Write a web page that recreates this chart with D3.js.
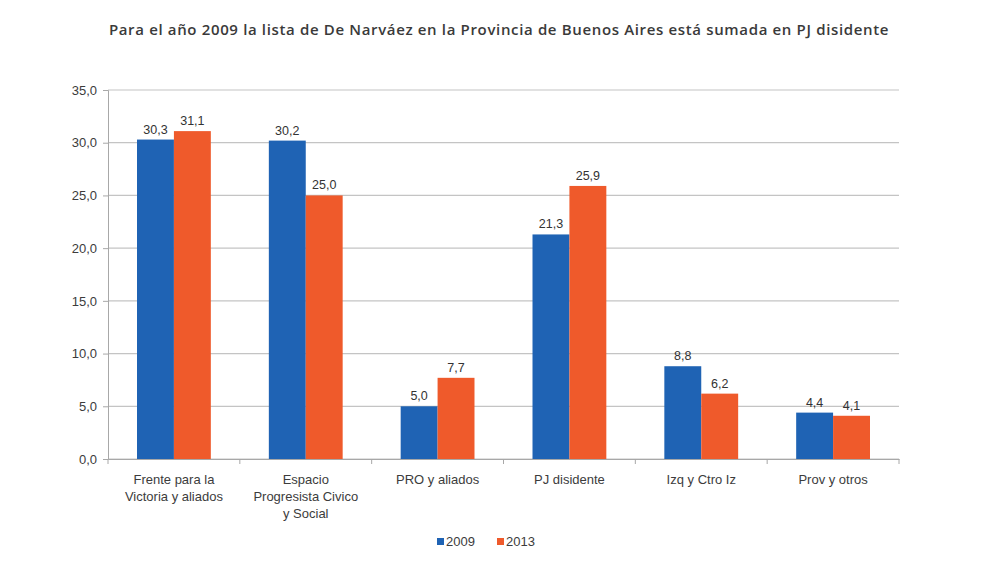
<!DOCTYPE html>
<html>
<head>
<meta charset="utf-8">
<script src="https://cdn.jsdelivr.net/npm/d3@7"></script>
<style>
  body { margin: 0; background: #fff; }
</style>
</head>
<body>
<div id="chart"></div>
<script>
// data
var categories = [
  ["Frente para la", "Victoria y aliados"],
  ["Espacio", "Progresista Civico", "y Social"],
  ["PRO y aliados"],
  ["PJ disidente"],
  ["Izq y Ctro Iz"],
  ["Prov y otros"]
];
var years = ["2009", "2013"];
var values2009 = [30.3, 30.2, 5.0, 21.3, 8.8, 4.4];
var values2013 = [31.1, 25.0, 7.7, 25.9, 6.2, 4.1];
var yTicks = [0, 5, 10, 15, 20, 25, 30, 35];
var colors = ["#1f63b4", "#ef5a2b"];

var fmt = function(v) { return v.toFixed(1).replace(".", ","); };

// set the dimensions and margins of the graph
var W = 1000, H = 565;
var margin = {top: 90, right: 101, bottom: 106, left: 108},
    width = W - margin.left - margin.right,
    height = H - margin.top - margin.bottom;

var root = d3.select("#chart")
    .append("svg")
    .attr("width", W)
    .attr("height", H);

root.append("text")
    .attr("x", 499)
    .attr("y", 35)
    .attr("text-anchor", "middle")
    .style("font-family", "'Open Sans', sans-serif")
    .style("font-size", "15px")
    .style("font-weight", "600")
    .style("letter-spacing", "0.65px")
    .style("fill", "#3a3a3a")
    .text("Para el año 2009 la lista de De Narváez en la Provincia de Buenos Aires está sumada en PJ disidente");

var svg = root.append("g")
    .attr("transform", "translate(" + margin.left + "," + margin.top + ")");

// scales
var x = d3.scaleBand()
    .domain(d3.range(categories.length))
    .range([0, width]);

var y = d3.scaleLinear()
    .domain([0, 35])
    .range([height, 0]);

var barW = x.bandwidth() * 0.28;

// gridlines
svg.append("g")
    .selectAll("line")
    .data(yTicks)
    .enter()
    .append("line")
    .attr("x1", 0)
    .attr("x2", width)
    .attr("y1", function(d) { return y(d); })
    .attr("y2", function(d) { return y(d); })
    .attr("stroke", "#c4c4c4")
    .attr("stroke-width", 1.2);

// Y axis
var yAxis = svg.append("g")
    .call(d3.axisLeft(y).tickValues(yTicks).tickFormat(fmt).tickSize(5).tickPadding(6));
yAxis.select(".domain").attr("stroke", "#a8a8a8");
yAxis.selectAll(".tick line").attr("stroke", "#a8a8a8");
yAxis.selectAll("text")
    .style("font-family", "'Liberation Sans', Arial, sans-serif")
    .style("font-size", "13px")
    .style("fill", "#3c3c3c");

// X axis
var xAxis = svg.append("g")
    .attr("transform", "translate(0," + height + ")")
    .call(d3.axisBottom(x).tickValues([]).tickSizeOuter(0));
xAxis.select(".domain").attr("stroke", "#a8a8a8");
xAxis.selectAll(".sep")
    .data(d3.range(categories.length + 1))
    .enter()
    .append("line")
    .attr("x1", function(i) { return i * x.step(); })
    .attr("x2", function(i) { return i * x.step(); })
    .attr("y1", 0)
    .attr("y2", 5)
    .attr("stroke", "#a8a8a8");

// category labels
var labels = svg.append("g")
    .selectAll("text")
    .data(categories)
    .enter()
    .append("text")
    .attr("text-anchor", "middle")
    .attr("transform", function(d, i) { return "translate(" + (x(i) + x.bandwidth() / 2) + "," + (height + 25) + ")"; })
    .style("font-family", "'Liberation Sans', Arial, sans-serif")
    .style("font-size", "13px")
    .style("fill", "#3c3c3c");
labels.selectAll("tspan")
    .data(function(d) { return d; })
    .enter()
    .append("tspan")
    .attr("x", 0)
    .attr("dy", function(d, j) { return j === 0 ? 0 : 17; })
    .text(function(d) { return d; });

// bars
var series = [values2009, values2013];
series.forEach(function(vals, s) {
  var g = svg.append("g");
  g.selectAll("rect")
      .data(vals)
      .enter()
      .append("rect")
      .attr("x", function(d, i) { return x(i) + x.bandwidth() / 2 - barW + s * barW; })
      .attr("y", function(d) { return y(d); })
      .attr("width", barW)
      .attr("height", function(d) { return height - y(d); })
      .attr("fill", colors[s]);
  g.selectAll("text")
      .data(vals)
      .enter()
      .append("text")
      .attr("x", function(d, i) { return x(i) + x.bandwidth() / 2 - barW / 2 + s * barW; })
      .attr("y", function(d) { return y(d) - 6; })
      .attr("text-anchor", "middle")
      .style("font-family", "'Liberation Sans', Arial, sans-serif")
      .style("font-size", "12.5px")
      .style("fill", "#333")
      .text(fmt);
});

// legend
var legend = root.append("g")
    .attr("transform", "translate(437,546)");
var li = legend.selectAll("g")
    .data(years)
    .enter()
    .append("g")
    .attr("transform", function(d, i) { return "translate(" + (i * 60) + ",0)"; });
li.append("rect")
    .attr("x", 0)
    .attr("y", -8)
    .attr("width", 7)
    .attr("height", 7)
    .attr("fill", function(d, i) { return colors[i]; });
li.append("text")
    .attr("x", 9)
    .attr("y", 0)
    .style("font-family", "'Liberation Sans', Arial, sans-serif")
    .style("font-size", "13px")
    .style("fill", "#3c3c3c")
    .text(function(d) { return d; });
</script>
</body>
</html>
